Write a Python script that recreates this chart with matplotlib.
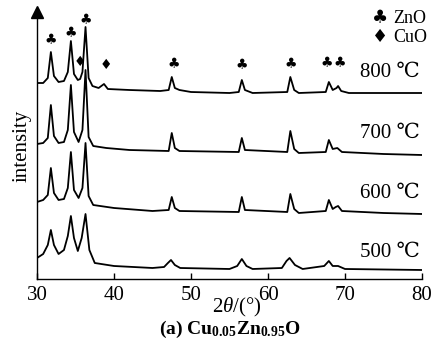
import matplotlib
matplotlib.use("Agg")
import matplotlib.pyplot as plt

plt.rcParams["font.family"] = ["Liberation Serif", "DejaVu Serif"]
plt.rcParams["mathtext.fontset"] = "custom"
plt.rcParams["mathtext.rm"] = "Liberation Serif"
plt.rcParams["mathtext.it"] = "Liberation Serif:italic"
plt.rcParams["mathtext.bf"] = "Liberation Serif:bold"

# keypoints (2theta, intensity in a.u.)
x800 = [30.0, 30.8, 31.4, 31.8, 32.2, 32.8, 33.5, 34.0, 34.4, 34.8, 35.3, 35.6, 35.9, 36.3, 36.7,
        37.2, 38.0, 38.7, 39.2, 42.0, 46.0, 47.1, 47.5, 47.9, 48.5, 50.0, 55.0, 56.2, 56.6, 57.0,
        58.0, 62.5, 62.9, 63.4, 64.0, 67.5, 67.9, 68.4, 68.9, 69.1, 69.5, 70.5, 80.0]
y800 = [196, 196, 201, 227, 203, 197, 198, 207, 238, 205, 199, 200, 207, 252, 201,
        193, 191, 195, 190, 189, 188, 189, 202, 191, 189, 187, 186, 187, 199, 189,
        186, 187, 202, 189, 186, 187, 197, 189, 191, 193, 188, 186, 186]

x700 = [30.0, 30.8, 31.4, 31.8, 32.2, 32.8, 33.5, 34.0, 34.4, 34.8, 35.4, 35.9, 36.3, 36.7, 37.3,
        39.0, 42.0, 47.1, 47.5, 47.9, 48.5, 56.2, 56.6, 57.0, 62.5, 62.9, 63.4, 64.0, 67.5,
        67.9, 68.4, 69.0, 69.6, 75.0, 80.0]
y700 = [135, 136, 141, 174, 143, 136, 137, 149, 194, 147, 137, 149, 209, 142, 133,
        131, 129, 128, 146, 131, 128, 127, 141, 129, 127, 148, 130, 126, 127,
        139, 130, 131, 127, 125, 124]

x600 = [30.0, 30.8, 31.4, 31.8, 32.2, 32.8, 33.5, 34.0, 34.4, 34.8, 35.4, 35.9, 36.3, 36.7, 37.3,
        40.0, 45.0, 47.1, 47.5, 47.9, 48.5, 56.2, 56.6, 57.0, 62.5, 62.9, 63.4, 64.0, 67.5,
        67.9, 68.4, 68.8, 69.1, 69.6, 75.0, 80.0]
y600 = [77, 79, 84, 111, 86, 79, 80, 91, 127, 89, 81, 91, 136, 83, 74,
        71, 68, 69, 82, 71, 68, 67, 82, 69, 67, 85, 70, 66, 68,
        79, 70, 72, 73, 68, 66, 65]

x500 = [30.0, 30.8, 31.4, 31.8, 32.2, 32.8, 33.5, 34.0, 34.4, 34.8, 35.3, 35.8, 36.3, 36.8, 37.5,
        40.0, 45.0, 46.5, 47.0, 47.4, 47.9, 48.6, 55.0, 56.0, 56.6, 57.2, 58.0, 61.8, 62.4,
        62.8, 63.5, 64.5, 67.3, 67.9, 68.4, 69.1, 70.0, 80.0]
y500 = [21, 25, 34, 49, 34, 25, 29, 43, 63, 41, 28, 41, 65, 29, 16,
        13, 11, 12, 16, 19, 14, 11, 10, 13, 20, 13, 10, 11, 18,
        21, 14, 10, 13, 18, 13, 13, 10, 9]

curves = [(x800, y800), (x700, y700), (x600, y600), (x500, y500)]
temps = ["800 ℃", "700 ℃", "600 ℃", "500 ℃"]
temp_y = [207, 146, 86, 27]

# phase marks
zno_x = [31.8, 34.4, 36.3, 47.7, 56.6, 63.0, 67.6, 69.3]
zno_y = [239, 246, 259, 215, 214, 215, 216, 216]
cuo_x = [35.6, 38.9]
cuo_y = [217, 214]

fig = plt.figure(figsize=(4.38, 3.49), dpi=100)
ax = fig.add_axes([0.0845, 0.2006, 0.879, 0.765])

for xs, ys in curves:
    ax.plot(xs, ys, color="black", lw=1.3)

for xv, yv in zip(zno_x, zno_y):
    ax.text(xv, yv, "\u2663", family="DejaVu Sans", fontsize=10, ha="center", va="center")
for xv, yv in zip(cuo_x, cuo_y):
    ax.text(xv, yv, "\u2666", family="DejaVu Sans", fontsize=10, ha="center", va="center")

for t, yv in zip(temps, temp_y):
    ax.text(79.7, yv, t, fontsize=15, ha="right", va="center")

ax.text(74.6, 261, "\u2663", family="DejaVu Sans", fontsize=13, ha="center", va="center")
ax.text(76.3, 261, "ZnO", fontsize=13, ha="left", va="center")
ax.text(74.6, 242, "\u2666", family="DejaVu Sans", fontsize=13, ha="center", va="center")
ax.text(76.3, 242, "CuO", fontsize=13, ha="left", va="center")

ax.set_xlim(30, 80)
ax.set_ylim(0, 267)
ax.set_xticks([30, 40, 50, 60, 70, 80])
ax.set_yticks([])
ax.tick_params(axis="x", direction="in", length=4, width=1, labelsize=15, pad=5)
ax.spines["top"].set_visible(False)
ax.spines["right"].set_visible(False)
ax.spines["left"].set_linewidth(1)
ax.spines["bottom"].set_linewidth(1)
ax.plot([0], [1], marker="^", color="black", markersize=8, transform=ax.transAxes, clip_on=False)

ax.set_ylabel("intensity", fontsize=15, labelpad=4)
fig.text(0.54, 0.12, r"2$\mathit{\theta}$/(°)", fontsize=15, ha="center", va="center")
fig.text(0.525, 0.055, r"(a) Cu$_{\mathbf{0.05}}$Zn$_{\mathbf{0.95}}$O", fontsize=14,
         fontweight="bold", ha="center", va="center")

fig.savefig("out.png", dpi=100)
